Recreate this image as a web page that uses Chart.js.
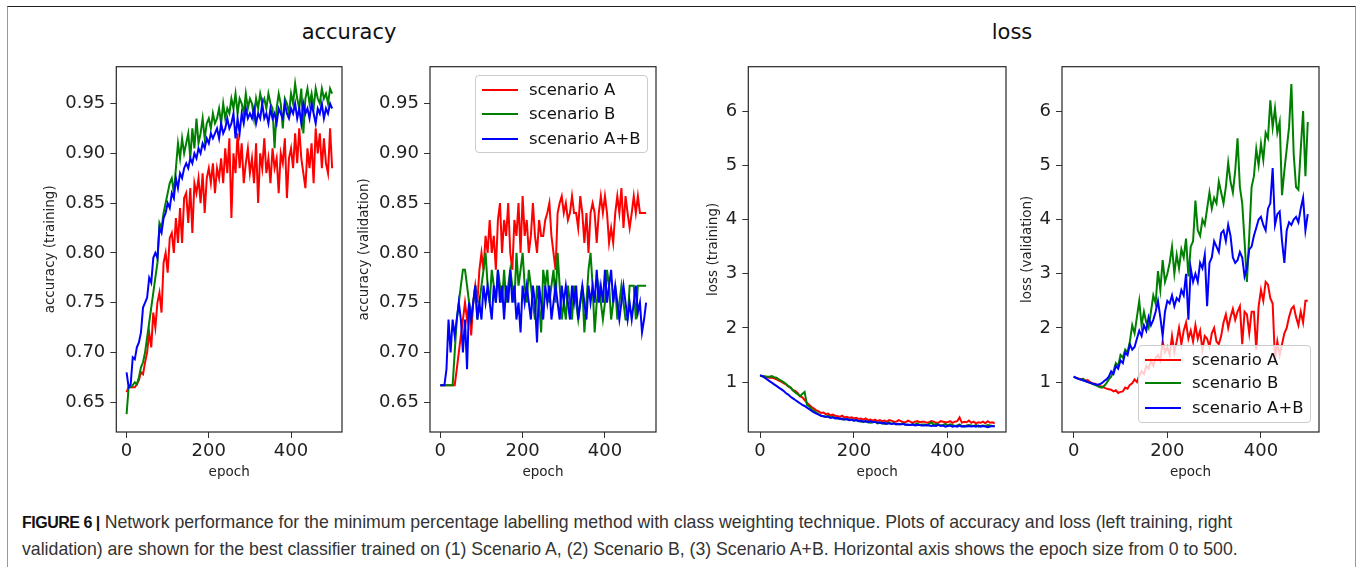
<!DOCTYPE html>
<html>
<head>
<meta charset="utf-8">
<script src="https://cdn.jsdelivr.net/npm/chart.js@4.4.0/dist/chart.umd.min.js"></script>
<style>
  body { margin: 0; background: #fff; width: 1360px; height: 567px; overflow: hidden; position: relative; font-family: "DejaVu Sans", sans-serif; }
  #frame { position: absolute; left: 7px; top: 6px; width: 1347px; height: 600px; border-top: 1.5px solid #222; border-left: 1.5px solid #999; border-right: 1.5px solid #999; }
  canvas { position: absolute; top: 40px; }
  .title { position: absolute; top: 20px; font-size: 21px; line-height: 24px; color: #111; transform: translateX(-50%); white-space: nowrap; }
  .legend { position: absolute; width: 171px; height: 76px; border: 1px solid #ccc; border-radius: 4px; background: rgba(255,255,255,0.8); font-size: 16.5px; color: #111; }
  .legend div { position: absolute; left: 0; height: 20px; line-height: 20px; white-space: nowrap; }
  .legend span.ln { position: absolute; left: 6px; top: 9px; width: 36px; height: 2px; }
  .legend span.tx { position: absolute; left: 53px; top: 0; }
  #caption { position: absolute; left: 22px; top: 509px; font-family: "Liberation Sans", Arial, sans-serif; font-size: 17.7px; line-height: 26px; color: #333; white-space: nowrap; }
  #caption b { color: #111; font-size: 16px; letter-spacing: -0.5px; }
</style>
</head>
<body>
<div id="frame"></div>
<div class="title" style="left:349px">accuracy</div>
<div class="title" style="left:1012px">loss</div>

<canvas id="c1" width="310" height="445" style="left:38px"></canvas>
<canvas id="c2" width="310" height="445" style="left:352px"></canvas>
<canvas id="c3" width="311" height="445" style="left:701px"></canvas>
<canvas id="c4" width="310" height="445" style="left:1015px"></canvas>

<div class="legend" style="left:475px; top:75px">
  <div style="top:4px"><span class="ln" style="background:#ff0000"></span><span class="tx">scenario A</span></div>
  <div style="top:28px"><span class="ln" style="background:#008000"></span><span class="tx">scenario B</span></div>
  <div style="top:53px"><span class="ln" style="background:#0000ff"></span><span class="tx">scenario A+B</span></div>
</div>
<div class="legend" style="left:1138px; top:345px">
  <div style="top:4px"><span class="ln" style="background:#ff0000"></span><span class="tx">scenario A</span></div>
  <div style="top:27px"><span class="ln" style="background:#008000"></span><span class="tx">scenario B</span></div>
  <div style="top:52px"><span class="ln" style="background:#0000ff"></span><span class="tx">scenario A+B</span></div>
</div>

<div id="caption"><b>FIGURE 6 |</b> Network performance for the minimum percentage labelling method with class weighting technique. Plots of accuracy and loss (left training, right<br>validation) are shown for the best classifier trained on (1) Scenario A, (2) Scenario B, (3) Scenario A+B. Horizontal axis shows the epoch size from 0 to 500.</div>

<script>
// one point every 5 epochs
const epochs = Array.from({ length: 101 }, (_, i) => i * 5);

const epochTicks = [0, 200, 400];
const accTicks = [0.65, 0.70, 0.75, 0.80, 0.85, 0.90, 0.95];
const lossTicks = [1, 2, 3, 4, 5, 6];

// accuracy (training)
const accTrainA = [
  .660,.665,.665,.665,.665,.668,.672,.680,.678,.690,
  .700,.720,.705,.740,.725,.750,.760,.740,.790,.800,
  .780,.815,.820,.800,.835,.810,.845,.810,.855,.860,
  .830,.865,.820,.870,.860,.875,.850,.880,.840,.875,
  .885,.870,.890,.860,.885,.875,.895,.870,.905,.880,
  .915,.835,.900,.880,.920,.885,.910,.870,.890,.905,
  .880,.895,.870,.910,.850,.900,.885,.915,.880,.895,
  .870,.905,.885,.895,.860,.900,.890,.915,.855,.895,
  .905,.885,.920,.890,.925,.895,.880,.865,.905,.885,
  .910,.870,.925,.900,.920,.885,.915,.890,.880,.925,
  .885
];
const accTrainB = [
  .638,.665,.665,.667,.670,.668,.675,.685,.690,.700,
  .715,.730,.745,.760,.775,.790,.830,.825,.840,.850,
  .860,.870,.875,.860,.885,.910,.895,.915,.900,.910,
  .920,.895,.925,.905,.935,.910,.920,.935,.915,.930,
  .935,.925,.940,.930,.935,.945,.930,.950,.935,.945,
  .940,.955,.945,.960,.940,.955,.950,.940,.960,.945,
  .955,.950,.935,.955,.945,.960,.950,.955,.945,.960,
  .950,.945,.905,.945,.960,.950,.925,.955,.950,.940,
  .960,.950,.970,.955,.945,.965,.920,.955,.965,.950,
  .960,.945,.965,.955,.950,.965,.955,.960,.950,.965,
  .960
];
const accTrainAB = [
  .680,.665,.668,.695,.693,.705,.710,.720,.745,.750,
  .755,.775,.770,.795,.800,.795,.825,.820,.835,.840,
  .850,.845,.860,.855,.875,.865,.880,.875,.885,.890,
  .885,.895,.890,.900,.895,.905,.900,.910,.905,.915,
  .910,.920,.915,.920,.925,.915,.930,.920,.925,.935,
  .925,.930,.940,.915,.935,.920,.940,.930,.945,.935,
  .940,.935,.945,.930,.940,.935,.950,.935,.940,.930,
  .945,.935,.940,.930,.945,.940,.935,.950,.940,.935,
  .945,.940,.950,.935,.945,.930,.950,.940,.945,.935,
  .950,.940,.930,.945,.940,.950,.935,.945,.940,.950,
  .945
];

// accuracy (validation)
const accValA = [
  .667,.667,.667,.667,.667,.667,.667,.667,.683,.700,
  .717,.733,.750,.733,.750,.717,.750,.767,.750,.783,
  .800,.783,.817,.800,.833,.800,.817,.783,.833,.850,
  .800,.833,.817,.850,.800,.783,.833,.817,.850,.800,
  .857,.817,.833,.800,.817,.850,.817,.800,.833,.817,
  .817,.833,.840,.850,.817,.800,.783,.840,.850,.857,
  .840,.850,.833,.840,.857,.840,.840,.825,.857,.840,
  .810,.840,.800,.840,.850,.840,.810,.840,.857,.840,
  .857,.840,.810,.825,.810,.840,.857,.840,.865,.825,
  .857,.840,.825,.840,.857,.840,.857,.840,.840,.840,
  .840
];
const accValB = [
  .667,.667,.667,.667,.667,.667,.667,.700,.733,.750,
  .767,.783,.783,.767,.750,.733,.750,.767,.733,.750,
  .767,.783,.800,.767,.750,.783,.767,.750,.783,.767,
  .750,.783,.750,.767,.783,.767,.750,.800,.767,.783,
  .800,.767,.750,.783,.767,.750,.733,.767,.750,.720,
  .783,.767,.783,.750,.767,.783,.750,.800,.767,.733,
  .750,.733,.767,.750,.733,.767,.750,.733,.750,.767,
  .720,.750,.783,.800,.767,.720,.750,.767,.750,.733,
  .750,.783,.767,.733,.750,.767,.733,.750,.767,.750,
  .733,.733,.767,.767,.767,.733,.767,.767,.767,.767,
  .767
];
const accValAB = [
  .667,.667,.667,.683,.733,.700,.733,.717,.733,.750,
  .733,.700,.733,.683,.750,.733,.750,.767,.733,.750,
  .733,.767,.750,.767,.750,.733,.767,.750,.783,.750,
  .767,.733,.767,.750,.783,.750,.767,.733,.750,.720,
  .767,.750,.767,.750,.733,.767,.750,.710,.767,.750,
  .733,.767,.750,.767,.733,.750,.767,.750,.733,.767,
  .750,.767,.750,.733,.767,.750,.767,.733,.750,.767,
  .750,.733,.767,.750,.767,.750,.783,.750,.767,.750,
  .783,.750,.767,.783,.750,.767,.750,.733,.750,.767,
  .750,.733,.750,.733,.750,.767,.740,.750,.720,.733,
  .750
];

// loss (training)
const lossTrainA = [
  1.12,1.11,1.10,1.09,1.08,1.08,1.07,1.05,1.03,1.01,
  0.98,0.96,0.92,0.90,0.85,0.84,0.80,0.74,0.72,0.67,
  0.62,0.58,0.54,0.51,0.48,0.46,0.43,0.44,0.41,0.42,
  0.39,0.40,0.38,0.37,0.36,0.38,0.35,0.36,0.34,0.35,
  0.33,0.34,0.32,0.33,0.31,0.33,0.30,0.31,0.29,0.31,
  0.28,0.30,0.28,0.29,0.27,0.30,0.29,0.27,0.27,0.30,
  0.28,0.26,0.26,0.29,0.27,0.25,0.27,0.28,0.26,0.27,
  0.27,0.25,0.26,0.28,0.27,0.25,0.25,0.28,0.27,0.26,
  0.26,0.28,0.25,0.27,0.28,0.35,0.25,0.27,0.26,0.29,
  0.25,0.27,0.24,0.26,0.25,0.27,0.24,0.28,0.25,0.26,
  0.24
];
const lossTrainB = [
  1.12,1.11,1.11,1.10,1.10,1.11,1.09,1.08,1.05,1.03,
  1.00,0.97,0.93,0.90,0.85,0.81,0.78,0.74,0.78,0.82,
  0.58,0.55,0.50,0.47,0.44,0.41,0.38,0.37,0.36,0.38,
  0.35,0.36,0.34,0.33,0.33,0.31,0.31,0.32,0.30,0.31,
  0.29,0.30,0.28,0.27,0.27,0.28,0.26,0.25,0.26,0.27,
  0.24,0.25,0.24,0.23,0.24,0.26,0.23,0.24,0.23,0.22,
  0.23,0.24,0.22,0.21,0.21,0.22,0.22,0.24,0.21,0.22,
  0.22,0.20,0.23,0.26,0.21,0.23,0.22,0.20,0.21,0.23,
  0.20,0.22,0.21,0.19,0.20,0.22,0.19,0.18,0.20,0.21,
  0.20,0.19,0.21,0.18,0.19,0.20,0.19,0.21,0.20,0.19,
  0.19
];
const lossTrainAB = [
  1.13,1.11,1.08,1.05,1.02,0.99,0.96,0.93,0.90,0.87,
  0.84,0.80,0.77,0.73,0.70,0.67,0.64,0.61,0.58,0.56,
  0.53,0.50,0.47,0.44,0.42,0.40,0.38,0.37,0.36,0.36,
  0.34,0.35,0.33,0.34,0.32,0.33,0.31,0.32,0.30,0.31,
  0.29,0.30,0.28,0.29,0.27,0.28,0.26,0.28,0.26,0.27,
  0.25,0.26,0.24,0.25,0.23,0.24,0.23,0.24,0.22,0.23,
  0.22,0.23,0.21,0.22,0.21,0.22,0.20,0.21,0.21,0.20,
  0.20,0.21,0.20,0.19,0.20,0.19,0.21,0.19,0.20,0.18,
  0.19,0.20,0.18,0.19,0.18,0.20,0.18,0.19,0.18,0.19,
  0.18,0.19,0.18,0.20,0.18,0.19,0.18,0.17,0.18,0.19,
  0.18
];

// loss (validation)
const lossValA = [
  1.10,1.08,1.07,1.05,1.06,1.03,1.04,1.00,0.98,0.97,
  0.95,0.93,0.92,0.90,0.88,0.87,0.86,0.83,0.85,0.80,
  0.82,0.83,0.90,0.88,0.95,0.98,1.05,1.00,1.12,1.20,
  1.15,1.30,1.25,1.40,1.30,1.45,1.50,1.40,1.75,1.55,
  1.65,1.50,1.85,1.55,1.75,2.00,1.70,1.95,2.10,1.80,
  1.95,1.75,2.05,1.80,1.95,1.60,1.85,1.80,1.65,1.90,
  2.00,1.75,1.70,1.85,2.10,2.25,2.00,2.20,2.35,2.15,
  2.30,2.40,1.70,2.30,2.25,1.90,2.30,2.30,1.60,2.40,
  2.70,2.50,2.85,2.80,2.55,2.45,1.40,1.75,1.50,1.70,
  1.90,2.00,2.20,2.35,2.40,2.20,2.05,2.30,2.10,2.50,
  2.50
];
const lossValB = [
  1.10,1.08,1.06,1.05,1.06,1.02,1.00,0.99,0.97,0.95,
  0.93,0.91,0.90,0.93,0.98,1.05,1.10,1.20,1.35,1.30,
  1.50,1.45,1.60,1.55,1.75,2.05,1.90,2.20,2.50,2.05,
  2.30,2.10,2.00,2.30,2.60,2.45,3.05,2.70,3.25,2.85,
  3.00,3.20,3.50,3.00,3.35,3.10,3.45,3.30,3.65,2.95,
  3.50,3.60,4.35,3.80,3.70,4.00,3.90,4.20,4.50,4.20,
  4.40,4.30,4.70,4.50,4.30,4.60,5.05,4.70,4.50,4.90,
  5.50,4.60,4.30,3.60,2.85,3.70,4.60,4.80,5.30,5.00,
  5.40,5.10,5.60,5.50,6.20,5.70,6.05,5.60,5.80,4.45,
  4.90,5.30,5.70,6.50,5.20,4.60,4.55,5.30,6.00,4.80,
  5.80
];
const lossValAB = [
  1.10,1.08,1.06,1.05,1.03,1.02,1.00,0.99,0.97,0.96,
  0.95,0.96,0.98,1.02,1.05,1.10,1.20,1.15,1.30,1.25,
  1.40,1.35,1.55,1.50,1.70,1.60,1.65,1.80,1.95,1.85,
  2.05,1.95,2.20,2.05,2.15,2.30,2.50,2.20,1.85,2.30,
  2.50,2.45,2.60,2.40,2.55,2.50,2.70,2.60,3.00,2.15,
  3.10,2.85,3.00,2.85,3.20,3.10,3.35,2.40,3.20,3.30,
  3.60,3.50,3.40,3.75,3.80,3.60,3.90,3.70,3.30,3.20,
  3.25,3.40,3.30,2.95,3.10,3.45,3.50,3.70,3.85,4.00,
  4.05,3.90,3.80,4.20,4.30,4.95,3.90,4.10,4.15,3.60,
  3.20,3.80,3.95,3.90,4.00,4.05,3.95,4.20,4.40,3.80,
  4.10
];

const RED = '#ff0000', GREEN = '#008000', BLUE = '#0000ff';
Chart.defaults.font.family = "'DejaVu Sans', sans-serif";

// matplotlib-style box around the plot area
const framePlugin = {
  id: 'frame',
  afterDraw(chart) {
    const { ctx, chartArea: a } = chart;
    ctx.save();
    ctx.strokeStyle = '#262626';
    ctx.lineWidth = 1.2;
    ctx.strokeRect(a.left, a.top, a.right - a.left, a.bottom - a.top);
    ctx.restore();
  }
};

function makePanel(id, yAxisW, yMin, yMax, yTicks, yFmt, yTitle, series) {
  new Chart(document.getElementById(id), {
    type: 'line',
    data: {
      datasets: series.map(s => ({
        data: epochs.map((x, i) => ({ x: x, y: s.values[i] })),
        borderColor: s.color,
        borderWidth: 2,
        pointRadius: 0,
        tension: 0,
        fill: false,
        order: s.order
      }))
    },
    options: {
      responsive: false,
      animation: false,
      devicePixelRatio: 1,
      layout: { padding: { top: 26.7, right: 6, left: 0, bottom: 0 } },
      plugins: { legend: { display: false }, tooltip: { enabled: false } },
      scales: {
        x: {
          type: 'linear', min: -25, max: 524,
          afterBuildTicks: s => { s.ticks = epochTicks.map(v => ({ value: v })); },
          afterFit: s => { s.height = 53; },
          grid: { display: true, drawOnChartArea: false, drawTicks: true, tickLength: 6, color: '#333' },
          border: { display: false },
          ticks: { font: { size: 18 }, color: '#222', padding: 3, maxRotation: 0, callback: v => String(v) },
          title: { display: true, text: 'epoch', font: { size: 13.5 }, color: '#222', padding: { top: 4, bottom: 4 } }
        },
        y: {
          type: 'linear', min: yMin, max: yMax,
          afterBuildTicks: s => { s.ticks = yTicks.map(v => ({ value: v })); },
          afterFit: s => { s.width = yAxisW; },
          grid: { display: true, drawOnChartArea: false, drawTicks: true, tickLength: 6, color: '#333' },
          border: { display: false },
          ticks: { font: { size: 18 }, color: '#222', padding: 5, callback: yFmt },
          title: { display: true, text: yTitle, font: { size: 13.5 }, color: '#222', padding: { top: 4, bottom: 4 } }
        }
      }
    },
    plugins: [framePlugin]
  });
}

const accFmt = v => v.toFixed(2);
const lossFmt = v => String(v);

makePanel('c1', 78.3, 0.62, 0.987, accTicks, accFmt, 'accuracy (training)', [
  { values: accTrainA, color: RED, order: 2 },
  { values: accTrainB, color: GREEN, order: 1 },
  { values: accTrainAB, color: BLUE, order: 0 }
]);
makePanel('c2', 78, 0.62, 0.987, accTicks, accFmt, 'accuracy (validation)', [
  { values: accValA, color: RED, order: 2 },
  { values: accValB, color: GREEN, order: 1 },
  { values: accValAB, color: BLUE, order: 0 }
]);
makePanel('c3', 47.3, 0.08, 6.82, lossTicks, lossFmt, 'loss (training)', [
  { values: lossTrainA, color: RED, order: 2 },
  { values: lossTrainB, color: GREEN, order: 1 },
  { values: lossTrainAB, color: BLUE, order: 0 }
]);
makePanel('c4', 47, 0.08, 6.82, lossTicks, lossFmt, 'loss (validation)', [
  { values: lossValA, color: RED, order: 2 },
  { values: lossValB, color: GREEN, order: 1 },
  { values: lossValAB, color: BLUE, order: 0 }
]);
</script>
</body>
</html>
